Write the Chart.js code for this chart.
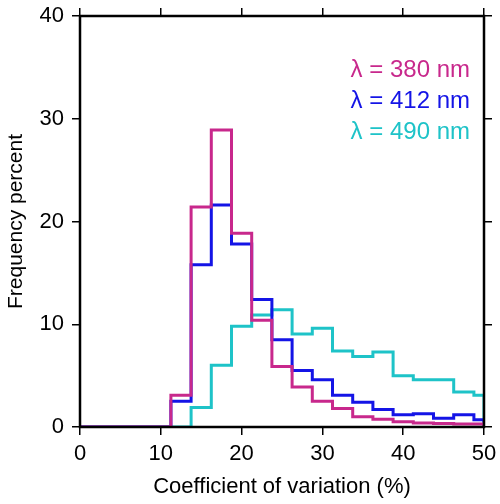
<!DOCTYPE html>
<html>
<head>
<meta charset="utf-8">
<script src="https://cdn.jsdelivr.net/npm/chart.js@4"></script>
<style>
  body { margin: 0; background: #fff; }
  #c { display: block; }
</style>
</head>
<body>
<canvas id="c" width="500" height="504"></canvas>
<script>
// bin centres, bin width 2.5
const binCenters = [0, 2.5, 5, 7.5, 10, 12.5, 15, 17.5, 20, 22.5, 25, 27.5, 30, 32.5, 35, 37.5, 40, 42.5, 45, 47.5, 50];
const freq380 = [0, 0, 0, 0, 0, 3.1, 21.4, 28.9, 18.85, 10.4, 5.9, 3.9, 2.5, 1.8, 1.0, 0.75, 0.5, 0.4, 0.35, 0.3, 0.3];
const freq412 = [0, 0, 0, 0, 0, 2.5, 15.8, 21.6, 17.8, 12.4, 8.5, 5.5, 4.6, 3.1, 2.4, 1.7, 1.2, 1.3, 0.85, 1.2, 0.7];
const freq490 = [0, 0, 0, 0, 0, 0, 1.9, 6.0, 9.8, 10.9, 11.4, 9.05, 9.6, 7.4, 6.85, 7.3, 5.0, 4.6, 4.6, 3.4, 3.1];
const labels = ["λ = 380 nm", "λ = 412 nm", "λ = 490 nm"];
const colors = ["#c8288c", "#1414e6", "#1ec3c8"];

const FONT = "'Liberation Sans', Arial, sans-serif";

function toPoints(vals) {
  const pts = binCenters.map((x, i) => ({ x: x, y: vals[i] }));
  pts.push({ x: 50, y: 0 });
  return pts;
}

function fixBox(w, h) {
  return function (s) {
    if (w !== null) s.width = w;
    if (h !== null) s.height = h;
    s.paddingTop = 0; s.paddingBottom = 0; s.paddingLeft = 0; s.paddingRight = 0;
  };
}

const frame = {
  id: "frame",
  afterDraw(chart) {
    const { ctx, chartArea: a } = chart;
    ctx.save();
    ctx.strokeStyle = "#000";
    ctx.lineWidth = 2.5;
    ctx.strokeRect(a.left, a.top, a.right - a.left, a.bottom - a.top);
    ctx.font = "24px " + FONT;
    ctx.textAlign = "right";
    ctx.textBaseline = "middle";
    labels.forEach((t, i) => {
      ctx.fillStyle = colors[i];
      ctx.fillText(t, 470, 70 + i * 31);
    });
    ctx.restore();
  }
};

const tickGrid = { drawOnChartArea: false, drawTicks: true, tickLength: 8, color: "#000", lineWidth: 1.5 };

new Chart(document.getElementById("c"), {
  type: "line",
  data: {
    datasets: [freq380, freq412, freq490].map((v, i) => ({
      label: labels[i],
      data: toPoints(v),
      borderColor: colors[i],
      borderWidth: 3,
      pointRadius: 0,
      stepped: "middle",
      fill: false
    }))
  },
  options: {
    responsive: false,
    animation: false,
    layout: { padding: 0 },
    plugins: { legend: { display: false }, tooltip: { enabled: false } },
    scales: {
      x: {
        type: "linear", min: 0, max: 50, position: "bottom",
        ticks: { stepSize: 10, color: "#000", font: { family: FONT, size: 22 }, padding: 6, maxRotation: 0 },
        grid: tickGrid,
        border: { display: false },
        title: { display: true, text: "Coefficient of variation (%)", color: "#000", font: { family: FONT, size: 22 }, padding: { top: 0 } },
        afterFit: fixBox(null, 77)
      },
      x2: {
        type: "linear", min: 0, max: 50, position: "top",
        ticks: { stepSize: 10, display: false },
        grid: tickGrid,
        border: { display: false },
        afterFit: fixBox(null, 16)
      },
      y: {
        min: 0, max: 40, position: "left",
        ticks: { stepSize: 10, color: "#000", font: { family: FONT, size: 22 }, padding: 8 },
        grid: tickGrid,
        border: { display: false },
        title: { display: true, text: "Frequency percent", color: "#000", font: { family: FONT, size: 21 }, padding: { bottom: 2 } },
        afterFit: fixBox(80, null)
      },
      y2: {
        min: 0, max: 40, position: "right",
        ticks: { stepSize: 10, display: false },
        grid: tickGrid,
        border: { display: false },
        afterFit: fixBox(16, null)
      }
    }
  },
  plugins: [frame]
});
</script>
</body>
</html>
